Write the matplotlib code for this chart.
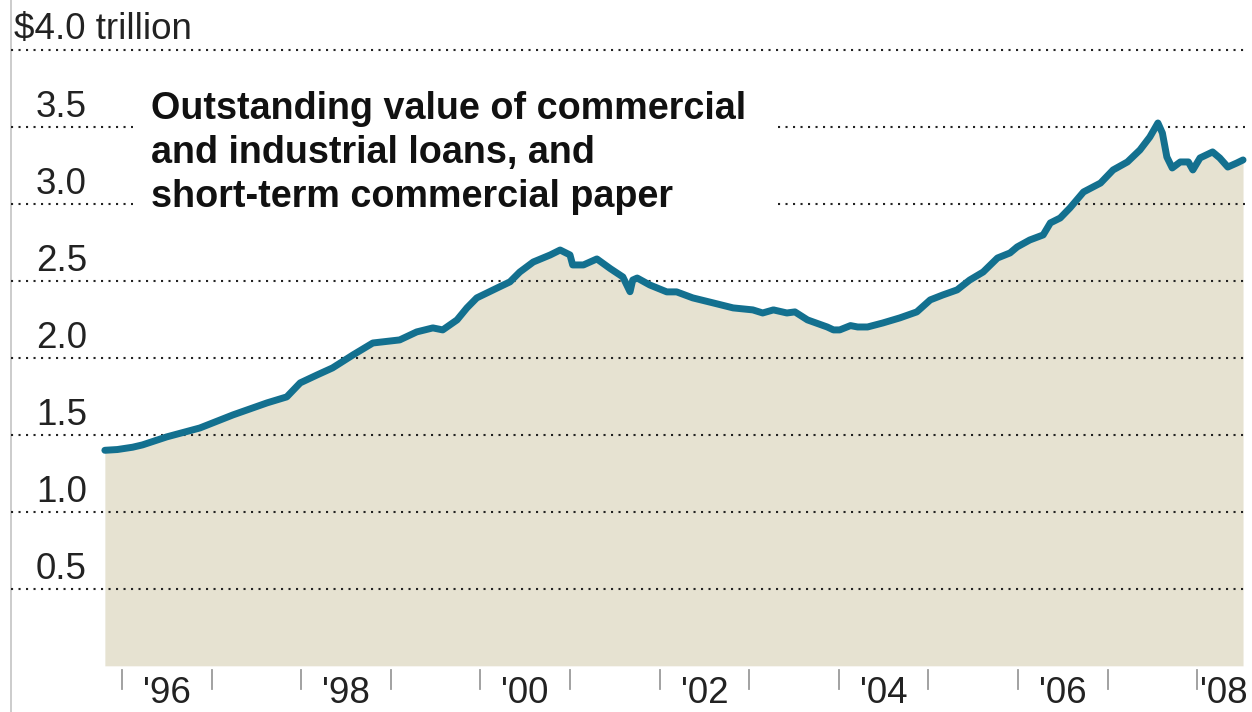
import matplotlib.pyplot as plt

# decimal year / trillions of dollars
years = [1995.81, 1995.95, 1996.12, 1996.23, 1996.50, 1996.87, 1997.24, 1997.62,
         1997.84, 1997.99, 1998.18, 1998.35, 1998.58, 1998.80, 1999.10, 1999.29,
         1999.47, 1999.58, 1999.74, 1999.85, 1999.96, 2000.19, 2000.33, 2000.44,
         2000.59, 2000.78, 2000.89, 2001.00, 2001.03, 2001.15, 2001.30, 2001.45,
         2001.59, 2001.67, 2001.70, 2001.75, 2001.89, 2002.08, 2002.19, 2002.37,
         2002.60, 2002.82, 2003.04, 2003.15, 2003.27, 2003.42, 2003.51, 2003.65,
         2003.87, 2003.94, 2004.01, 2004.13, 2004.21, 2004.32, 2004.49, 2004.68,
         2004.87, 2005.02, 2005.16, 2005.32, 2005.46, 2005.61, 2005.77, 2005.91,
         2005.99, 2006.13, 2006.28, 2006.36, 2006.47, 2006.58, 2006.73, 2006.92,
         2007.06, 2007.22, 2007.36, 2007.47, 2007.56, 2007.61, 2007.66, 2007.72,
         2007.81, 2007.90, 2007.95, 2008.03, 2008.17, 2008.25, 2008.34, 2008.44,
         2008.51]
values = [1.40, 1.405, 1.42, 1.435, 1.487, 1.545, 1.63, 1.708,
          1.747, 1.838, 1.89, 1.935, 2.02, 2.097, 2.117, 2.169,
          2.195, 2.182, 2.247, 2.325, 2.39, 2.455, 2.494, 2.558,
          2.623, 2.669, 2.701, 2.669, 2.604, 2.604, 2.643, 2.58,
          2.526, 2.43, 2.506, 2.519, 2.474, 2.429, 2.429, 2.39,
          2.357, 2.325, 2.312, 2.292, 2.312, 2.292, 2.299, 2.247,
          2.201, 2.182, 2.182, 2.21, 2.201, 2.201, 2.227, 2.26,
          2.299, 2.377, 2.409, 2.442, 2.506, 2.558, 2.649, 2.682,
          2.721, 2.766, 2.799, 2.877, 2.909, 2.975, 3.078, 3.136,
          3.221, 3.273, 3.351, 3.435, 3.526, 3.461, 3.305, 3.234,
          3.273, 3.273, 3.221, 3.299, 3.338, 3.299, 3.240, 3.266,
          3.286]

grid_levels = [4.0, 3.5, 3.0, 2.5, 2.0, 1.5, 1.0, 0.5]
grid_labels = ['$4.0 trillion', '3.5', '3.0', '2.5', '2.0', '1.5', '1.0', '0.5']
tick_years = list(range(1996, 2009))
year_labels = ["'96", "'98", "'00", "'02", "'04", "'06", "'08"]
label_years = [1996.5, 1998.5, 2000.5, 2002.5, 2004.5, 2006.5, 2008.3]
title_lines = ['Outstanding value of commercial',
               'and industrial loans, and',
               'short-term commercial paper']

LINE = '#13708f'
FILL = '#e6e2d1'

plt.rcParams['font.family'] = ['Liberation Sans', 'DejaVu Sans']

fig = plt.figure(figsize=(12.52, 7.12), dpi=100)
ax = fig.add_axes([0, 0, 1, 1])
ax.set_xlim(1994.64, 2008.61)
ax.set_ylim(-0.30, 4.325)
ax.axis('off')

ax.fill_between(years, values, 0, color=FILL, lw=0, zorder=1)
ax.plot(years, values, color=LINE, lw=5.0, solid_joinstyle='round',
        solid_capstyle='round', zorder=4)

# dotted gridlines; the two under the title skip the text block
gx0, gx1 = 1994.76, 2008.53
gap0, gap1 = 1996.12, 2003.32
for lev in grid_levels:
    if lev in (3.5, 3.0):
        segs = [(gx0, gap0), (gap1, gx1)]
    else:
        segs = [(gx0, gx1)]
    for a, b in segs:
        ax.plot([a, b], [lev, lev], color='#222222', lw=1.5,
                dashes=(1, 2.6), zorder=3)

for lev, lab in zip(grid_levels, grid_labels):
    if lev == 4.0:
        ax.text(1994.80, lev + 0.07, lab, ha='left', va='baseline',
                fontsize=26.5, color='#222222')
    else:
        ax.text(1995.61, lev + 0.065, lab, ha='right', va='baseline',
                fontsize=26.5, color='#222222')

ax.axvline(1994.76, color='#c4c4c4', lw=1.2, zorder=2)

for yr in tick_years:
    ax.plot([yr, yr], [-0.03, -0.15], color='#9a9a9a', lw=1.3, zorder=2)
for x, lab in zip(label_years, year_labels):
    ax.text(x, -0.24, lab, ha='center', va='baseline', fontsize=26.5,
            color='#222222')

for i, line in enumerate(title_lines):
    ax.text(1996.33, 3.555 - i * 0.2857, line, ha='left', va='baseline',
            fontsize=27.2, fontweight='bold', color='#111111', zorder=5)

fig.savefig('out.png', dpi=100)
